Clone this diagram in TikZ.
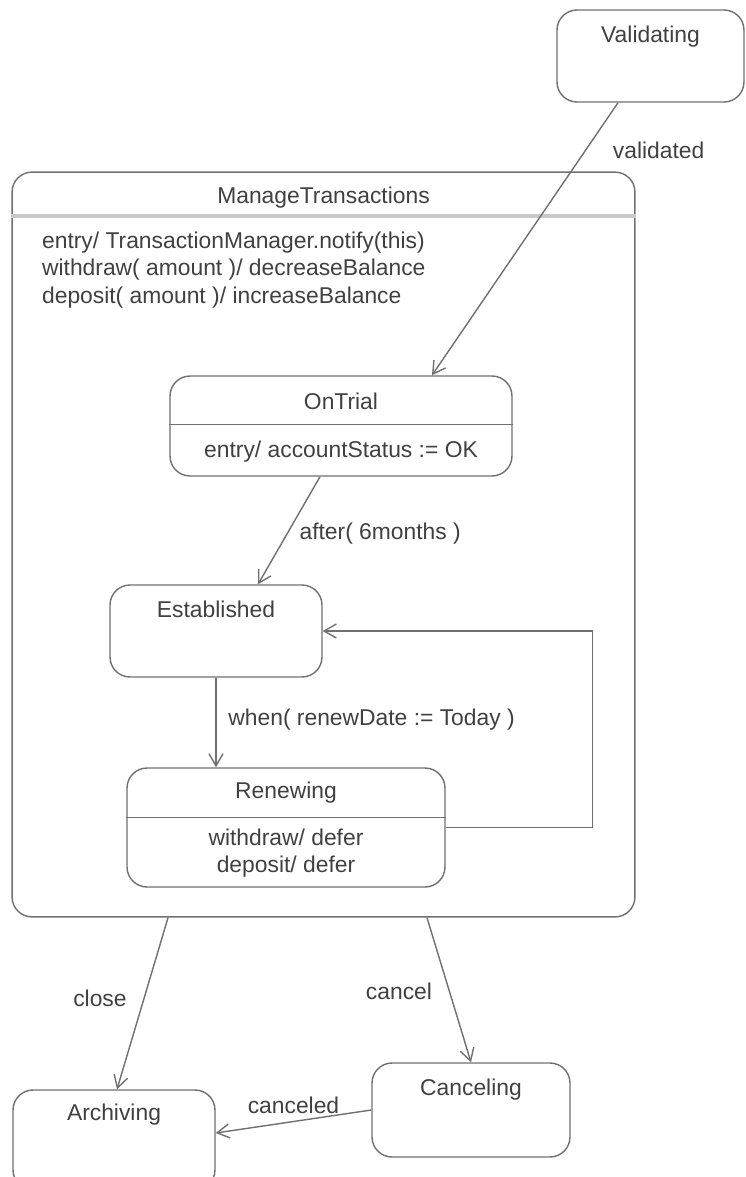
\documentclass[tikz,border=0pt]{standalone}
\usepackage{fontspec}
\setmainfont{Liberation Sans}
\usetikzlibrary{arrows.meta, positioning}
\definecolor{edgegray}{HTML}{707070}
\definecolor{inkgray}{HTML}{404040}
\definecolor{bargray}{HTML}{C8C8C8}

\begin{document}
\begin{tikzpicture}[
    x=0.02cm, y=-0.02cm,
    every node/.style={font=\fontsize{13pt}{15.6pt}\selectfont, text=inkgray},
    statebox/.style={rectangle, rounded corners=0.4cm, draw=edgegray, line width=0.8pt},
    lbl/.style={inner sep=1pt},
    compart/.style={draw=edgegray, line width=0.8pt},
    trans/.style={-{Straight Barb[length=7pt, width=8pt]}, draw=edgegray, line width=0.8pt}
]
\clip (0,0) rectangle (745,1177);
\useasboundingbox (0,0) rectangle (745,1177);

% --- States ---
\node[statebox, minimum width=3.74cm, minimum height=1.84cm] (valid) at (650.5,56) {};
\node[statebox, minimum width=12.46cm, minimum height=14.9cm] (mt) at (323.5,544.5) {};
\node[statebox, minimum width=6.84cm, minimum height=2.0cm] (ontrial) at (341,426) {};
\node[statebox, minimum width=4.24cm, minimum height=1.84cm] (est) at (216,631) {};
\node[statebox, minimum width=6.36cm, minimum height=2.38cm] (renew) at (286,827.5) {};
\node[statebox, minimum width=3.96cm, minimum height=1.88cm] (cancl) at (471,1110) {};
\node[statebox, minimum width=4.04cm, minimum height=2.0cm] (arch) at (114,1140) {};

% --- Names and actions ---
\node[lbl] (validT) at ([yshift=-0.54cm]valid.north) {Validating};
\node[lbl] (mtT) at ([yshift=-0.52cm]mt.north) {ManageTransactions};
\node[lbl, align=left, anchor=west] (mtAct) at (40,270) {entry/ TransactionManager.notify(this)\\withdraw( amount )/ decreaseBalance\\deposit( amount )/ increaseBalance};
\node[lbl] (ontrialT) at ([yshift=-0.52cm]ontrial.north) {OnTrial};
\node[lbl] (ontrialAct) at ([yshift=-1.52cm]ontrial.north) {entry/ accountStatus := OK};
\node[lbl] (estT) at ([yshift=-0.5cm]est.north) {Established};
\node[lbl] (renewT) at ([yshift=-0.5cm]renew.north) {Renewing};
\node[lbl, align=center] (renewAct) at ([yshift=-1.72cm]renew.north) {withdraw/ defer\\deposit/ defer};
\node[lbl] (canclT) at ([yshift=-0.54cm]cancl.north) {Canceling};
\node[lbl] (archT) at ([yshift=-0.5cm]arch.north) {Archiving};

% --- Compartment lines ---
\draw[draw=bargray, line width=2.3pt] ([yshift=-0.9cm]mt.north west) -- ([yshift=-0.9cm]mt.north east);
\draw[compart] ([yshift=-0.98cm]ontrial.north west) -- ([yshift=-0.98cm]ontrial.north east);
\draw[compart] ([yshift=-1.0cm]renew.north west) -- ([yshift=-1.0cm]renew.north east);

% --- Transitions ---
\draw[trans] ([xshift=-0.65cm]valid.south) -- node[lbl, pos=0.175, right=0.5cm] {validated} ([xshift=1.82cm]ontrial.north);
\draw[trans] ([xshift=-0.42cm]ontrial.south) -- node[lbl, pos=0.53, right=0.2cm] {after( 6months )} ([xshift=0.84cm]est.north);
\draw[trans] (est.south) -- node[lbl, pos=0.47, right=0.2cm] {when( renewDate := Today )} (est.south |- renew.north);
\draw[trans] (renew.east) -- ++(147,0) |- (est.east);
\draw[trans] ([xshift=-3.11cm]mt.south) -- node[lbl, pos=0.47, left=0.3cm] {close} ([xshift=0.06cm]arch.north);
\draw[trans] ([xshift=2.07cm]mt.south) -- node[lbl, pos=0.51, left=0.3cm] {cancel} (cancl.north);
\draw[trans] (cancl.west) -- node[lbl, above=0.1cm] {canceled} ([yshift=0.14cm]arch.east);
\end{tikzpicture}
\end{document}
